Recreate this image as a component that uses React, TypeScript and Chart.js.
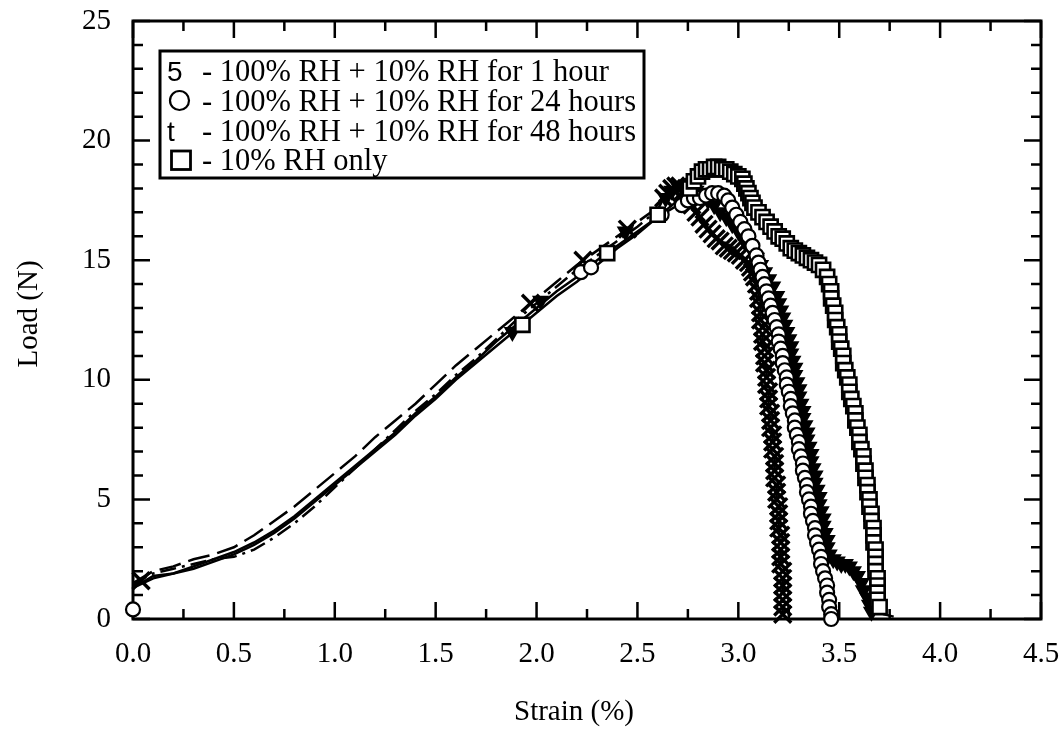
import React, { useEffect, useRef } from 'react';
import { Chart, registerables } from 'chart.js';

Chart.register(...registerables);

// ---------- tick labels / texts ----------
const xTickLabels = ['0.0', '0.5', '1.0', '1.5', '2.0', '2.5', '3.0', '3.5', '4.0', '4.5'];
const yTickLabels = ['0', '5', '10', '15', '20', '25'];
const xAxisTitle = 'Strain (%)';
const yAxisTitle = 'Load (N)';
const legendSymbols = ['5', '○', 't', '□'];
const legendLabels = [
  '- 100% RH + 10% RH for 1 hour',
  '- 100% RH + 10% RH for 24 hours',
  '- 100% RH + 10% RH for 48 hours',
  '- 10% RH only',
];

// ---------- 100% RH + 10% RH for 1 hour (X markers) ----------
const h1RiseStrain = [0.00, 0.05, 0.10, 0.20, 0.30, 0.40, 0.50, 0.60, 0.70, 0.80, 0.90, 1.00, 1.10, 1.20, 1.30, 1.40, 1.50, 1.60, 1.70, 1.80, 1.90, 2.00, 2.10, 2.20, 2.30, 2.40, 2.50, 2.60];
const h1RiseLoad = [1.4, 1.7, 1.9, 2.1, 2.3, 2.5, 2.6, 2.9, 3.4, 4.0, 4.7, 5.5, 6.3, 7.1, 7.9, 8.7, 9.4, 10.2, 10.9, 11.7, 12.5, 13.2, 13.9, 14.6, 15.2, 15.8, 16.4, 17.1];
const h1MarkStrain = [0.04, 1.97, 2.23, 2.45];
const h1MarkLoad = [1.6, 13.2, 15.0, 16.3];
const h1DescStrain = [2.63, 2.65, 2.67, 2.69, 2.71, 2.73, 2.75, 2.77, 2.79, 2.81, 2.83, 2.85, 2.87, 2.89, 2.91, 2.93, 2.95, 2.97, 2.99, 3.01, 3.03, 3.05, 3.06, 3.07, 3.08, 3.09, 3.10, 3.10, 3.11, 3.11, 3.11, 3.12, 3.12, 3.12, 3.13, 3.13, 3.13, 3.14, 3.14, 3.14, 3.15, 3.15, 3.15, 3.16, 3.16, 3.16, 3.17, 3.17, 3.17, 3.18, 3.18, 3.18, 3.18, 3.19, 3.19, 3.19, 3.20, 3.20, 3.20, 3.20, 3.21, 3.21, 3.21, 3.21, 3.21, 3.22, 3.22, 3.22, 3.22, 3.22, 3.22, 3.22];
const h1DescLoad = [17.6, 17.8, 18.0, 18.1, 18.1, 17.9, 17.6, 17.3, 17.0, 16.8, 16.5, 16.3, 16.1, 15.9, 15.8, 15.6, 15.5, 15.4, 15.3, 15.2, 15.0, 14.9, 14.7, 14.5, 14.3, 14.0, 13.7, 13.4, 13.1, 12.8, 12.5, 12.2, 11.9, 11.6, 11.3, 11.0, 10.7, 10.4, 10.1, 9.8, 9.5, 9.2, 8.9, 8.6, 8.3, 8.0, 7.7, 7.4, 7.1, 6.8, 6.5, 6.2, 5.9, 5.6, 5.3, 5.0, 4.7, 4.4, 4.1, 3.8, 3.5, 3.2, 2.9, 2.6, 2.3, 2.0, 1.7, 1.4, 1.1, 0.8, 0.5, 0.2];

// ---------- 100% RH + 10% RH for 24 hours (circles) ----------
const h24RiseStrain = [0.02, 0.10, 0.20, 0.30, 0.40, 0.50, 0.60, 0.70, 0.80, 0.90, 1.00, 1.10, 1.20, 1.30, 1.40, 1.50, 1.60, 1.70, 1.80, 1.90, 2.00, 2.10, 2.20, 2.30, 2.40, 2.50, 2.60, 2.70];
const h24RiseLoad = [1.4, 1.8, 1.9, 2.2, 2.5, 2.8, 3.2, 3.7, 4.3, 5.0, 5.7, 6.4, 7.1, 7.8, 8.6, 9.3, 10.1, 10.8, 11.6, 12.3, 13.0, 13.7, 14.3, 15.0, 15.6, 16.2, 16.8, 17.3];
const h24MarkStrain = [0.00, 2.22, 2.27, 2.62];
const h24MarkLoad = [0.4, 14.5, 14.7, 16.9];
const h24DescStrain = [2.72, 2.75, 2.78, 2.81, 2.84, 2.87, 2.90, 2.93, 2.95, 2.97, 2.99, 3.01, 3.03, 3.05, 3.07, 3.09, 3.10, 3.11, 3.12, 3.13, 3.14, 3.15, 3.16, 3.17, 3.18, 3.19, 3.20, 3.20, 3.21, 3.22, 3.22, 3.23, 3.24, 3.24, 3.25, 3.26, 3.26, 3.27, 3.28, 3.28, 3.29, 3.30, 3.30, 3.31, 3.32, 3.32, 3.33, 3.34, 3.34, 3.35, 3.36, 3.36, 3.37, 3.38, 3.38, 3.39, 3.40, 3.41, 3.41, 3.42, 3.43, 3.44, 3.44, 3.45, 3.45, 3.46, 3.46];
const h24DescLoad = [17.3, 17.5, 17.6, 17.6, 17.7, 17.8, 17.8, 17.7, 17.5, 17.2, 16.9, 16.6, 16.3, 16.0, 15.6, 15.2, 14.9, 14.6, 14.3, 14.0, 13.7, 13.4, 13.1, 12.8, 12.5, 12.2, 11.9, 11.6, 11.3, 11.0, 10.7, 10.4, 10.1, 9.8, 9.5, 9.2, 8.9, 8.6, 8.3, 8.0, 7.7, 7.4, 7.1, 6.8, 6.5, 6.2, 5.9, 5.6, 5.3, 5.0, 4.7, 4.4, 4.1, 3.8, 3.5, 3.2, 2.9, 2.6, 2.3, 2.0, 1.7, 1.4, 1.1, 0.8, 0.5, 0.2, 0.0];

// ---------- 100% RH + 10% RH for 48 hours (filled down triangles) ----------
const h48RiseStrain = [0.00, 0.10, 0.20, 0.30, 0.40, 0.50, 0.60, 0.70, 0.80, 0.90, 1.00, 1.10, 1.20, 1.30, 1.40, 1.50, 1.60, 1.70, 1.80, 1.90, 2.00, 2.10, 2.20, 2.30, 2.40, 2.50, 2.60];
const h48RiseLoad = [1.5, 2.0, 2.2, 2.5, 2.7, 3.0, 3.5, 4.1, 4.7, 5.4, 6.1, 6.8, 7.6, 8.3, 9.0, 9.8, 10.6, 11.3, 12.0, 12.7, 13.4, 14.1, 14.8, 15.4, 16.0, 16.6, 17.2];
const h48MarkStrain = [1.88, 2.02, 2.44];
const h48MarkLoad = [12.0, 13.3, 16.2];
const h48DescStrain = [2.64, 2.67, 2.70, 2.73, 2.76, 2.79, 2.82, 2.85, 2.88, 2.91, 2.94, 2.97, 3.00, 3.03, 3.06, 3.09, 3.11, 3.13, 3.15, 3.17, 3.19, 3.20, 3.21, 3.22, 3.23, 3.24, 3.25, 3.26, 3.26, 3.27, 3.28, 3.28, 3.29, 3.30, 3.30, 3.31, 3.32, 3.32, 3.33, 3.34, 3.34, 3.35, 3.36, 3.36, 3.37, 3.38, 3.38, 3.39, 3.40, 3.40, 3.41, 3.42, 3.42, 3.43, 3.44, 3.44, 3.45, 3.47, 3.49, 3.51, 3.53, 3.55, 3.57, 3.59, 3.61, 3.62, 3.64, 3.65, 3.66];
const h48DescLoad = [17.6, 17.9, 18.1, 18.1, 18.0, 17.9, 17.7, 17.5, 17.3, 17.0, 16.8, 16.5, 16.2, 15.8, 15.5, 15.1, 14.8, 14.5, 14.2, 13.9, 13.5, 13.2, 12.9, 12.6, 12.3, 12.0, 11.7, 11.4, 11.1, 10.8, 10.5, 10.2, 9.9, 9.6, 9.3, 9.0, 8.7, 8.4, 8.1, 7.8, 7.5, 7.2, 6.9, 6.6, 6.3, 6.0, 5.7, 5.4, 5.1, 4.8, 4.5, 4.2, 3.9, 3.6, 3.3, 3.0, 2.7, 2.5, 2.4, 2.3, 2.3, 2.2, 2.0, 1.8, 1.5, 1.2, 0.9, 0.6, 0.3];

// ---------- 10% RH only (open squares) ----------
const sqRiseStrain = [0.00, 0.10, 0.20, 0.30, 0.40, 0.50, 0.60, 0.70, 0.80, 0.90, 1.00, 1.10, 1.20, 1.30, 1.40, 1.50, 1.60, 1.70, 1.80, 1.90, 2.00, 2.10, 2.20, 2.30, 2.40, 2.50, 2.60, 2.70];
const sqRiseLoad = [1.3, 1.7, 1.9, 2.1, 2.4, 2.7, 3.1, 3.6, 4.2, 4.9, 5.6, 6.3, 7.0, 7.7, 8.5, 9.2, 10.0, 10.7, 11.4, 12.1, 12.8, 13.5, 14.1, 14.8, 15.5, 16.1, 16.8, 17.5];
const sqMarkStrain = [1.93, 2.35, 2.60];
const sqMarkLoad = [12.3, 15.3, 16.9];
const sqDescStrain = [2.76, 2.78, 2.80, 2.82, 2.84, 2.86, 2.88, 2.90, 2.92, 2.94, 2.96, 2.98, 3.00, 3.02, 3.03, 3.04, 3.05, 3.06, 3.07, 3.08, 3.10, 3.12, 3.14, 3.16, 3.18, 3.20, 3.22, 3.24, 3.26, 3.28, 3.30, 3.32, 3.34, 3.36, 3.38, 3.40, 3.42, 3.44, 3.45, 3.46, 3.46, 3.47, 3.48, 3.48, 3.49, 3.50, 3.50, 3.51, 3.52, 3.52, 3.53, 3.54, 3.55, 3.55, 3.56, 3.57, 3.58, 3.58, 3.59, 3.60, 3.60, 3.61, 3.62, 3.62, 3.63, 3.63, 3.64, 3.64, 3.65, 3.65, 3.66, 3.66, 3.67, 3.67, 3.67, 3.68, 3.68, 3.68, 3.68, 3.69, 3.69, 3.69, 3.69, 3.70];
const sqDescLoad = [18.0, 18.3, 18.5, 18.7, 18.8, 18.8, 18.9, 18.9, 18.8, 18.8, 18.7, 18.6, 18.5, 18.4, 18.2, 18.0, 17.8, 17.6, 17.4, 17.2, 17.0, 16.8, 16.6, 16.4, 16.2, 16.0, 15.9, 15.7, 15.5, 15.4, 15.3, 15.2, 15.1, 15.0, 14.9, 14.8, 14.6, 14.3, 14.0, 13.7, 13.4, 13.1, 12.8, 12.5, 12.2, 11.9, 11.6, 11.3, 11.0, 10.7, 10.4, 10.1, 9.8, 9.5, 9.2, 8.9, 8.6, 8.3, 8.0, 7.7, 7.4, 7.1, 6.8, 6.5, 6.2, 5.9, 5.6, 5.3, 5.0, 4.7, 4.4, 4.1, 3.8, 3.5, 3.2, 2.9, 2.6, 2.3, 2.0, 1.7, 1.4, 1.1, 0.8, 0.5];
const sqTailStrain = [3.72, 3.77];
const sqTailLoad = [0.2, 0.1];

// ---------- helpers ----------
const zip = (xs: number[], ys: number[]) => {
  const n = Math.min(xs.length, ys.length);
  const out: { x: number; y: number }[] = [];
  for (let i = 0; i < n; i++) out.push({ x: xs[i], y: ys[i] });
  return out;
};

const SERIF = '"Liberation Serif", "Times New Roman", serif';
const SANS = '"Liberation Sans", Arial, sans-serif';
const BLACK = '#000000';

const framePlugin = {
  id: 'frameTicksLegend',
  beforeDatasetsDraw(chart: any) {
    const { ctx, chartArea: a, scales } = chart;
    const xs = scales.x;
    const ys = scales.y;
    ctx.save();
    ctx.strokeStyle = BLACK;
    ctx.lineCap = 'butt';
    ctx.lineWidth = 2.5;
    ctx.beginPath();
    const MAJ = 17;
    const MIN = 10;
    xTickLabels.forEach((lab, i) => {
      const v = parseFloat(lab);
      const px = xs.getPixelForValue(v);
      ctx.moveTo(px, a.bottom); ctx.lineTo(px, a.bottom - MAJ);
      ctx.moveTo(px, a.top); ctx.lineTo(px, a.top + MAJ);
      if (i < xTickLabels.length - 1) {
        const pm = xs.getPixelForValue(v + 0.25);
        ctx.moveTo(pm, a.bottom); ctx.lineTo(pm, a.bottom - MIN);
        ctx.moveTo(pm, a.top); ctx.lineTo(pm, a.top + MIN);
      }
    });
    const yMax = parseFloat(yTickLabels[yTickLabels.length - 1]);
    for (let v = 0; v <= yMax; v += 1) {
      const py = ys.getPixelForValue(v);
      const len = v % 5 === 0 ? MAJ : MIN;
      ctx.moveTo(a.left, py); ctx.lineTo(a.left + len, py);
      ctx.moveTo(a.right, py); ctx.lineTo(a.right - len, py);
    }
    ctx.stroke();
    ctx.lineWidth = 3;
    ctx.strokeRect(a.left, a.top, a.right - a.left, a.bottom - a.top);
    ctx.restore();
  },
  afterDraw(chart: any) {
    const { ctx, chartArea: a } = chart;
    ctx.save();
    ctx.fillStyle = BLACK;
    ctx.strokeStyle = BLACK;
    // axis titles
    ctx.font = `29px ${SERIF}`;
    ctx.textAlign = 'center';
    ctx.textBaseline = 'alphabetic';
    ctx.fillText(xAxisTitle, 574, 720);
    ctx.save();
    ctx.translate(37, 314);
    ctx.rotate(-Math.PI / 2);
    ctx.fillText(yAxisTitle, 0, 0);
    ctx.restore();

    // legend box
    const bx = a.left + 27;
    const by = a.top + 30;
    const bw = 484;
    const bh = 127;
    ctx.fillStyle = '#ffffff';
    ctx.fillRect(bx, by, bw, bh);
    ctx.lineWidth = 3;
    ctx.strokeRect(bx, by, bw, bh);
    ctx.fillStyle = BLACK;
    const rowBase = [by + 30, by + 59.5, by + 89.5, by + 118.5];
    legendLabels.forEach((lab, i) => {
      const base = rowBase[i];
      ctx.textAlign = 'left';
      ctx.textBaseline = 'alphabetic';
      ctx.font = `30.5px ${SERIF}`;
      ctx.fillText(lab, bx + 42, base);
      const sym = legendSymbols[i];
      if (sym === '○') {
        ctx.lineWidth = 2.2;
        ctx.beginPath();
        ctx.arc(bx + 19.5, base - 10, 9.5, 0, Math.PI * 2);
        ctx.stroke();
      } else if (sym === '□') {
        ctx.lineWidth = 2.8;
        ctx.strokeRect(bx + 11.5, base - 18.5, 19, 18.5);
      } else {
        ctx.font = `28px ${SANS}`;
        ctx.fillText(sym, bx + 7, base);
      }
    });
    ctx.restore();
  },
};

export default function App() {
  const ref = useRef<HTMLCanvasElement | null>(null);

  useEffect(() => {
    if (!ref.current) return;
    const lineBase = { showLine: true, pointRadius: 0, borderColor: BLACK, borderWidth: 2.5, fill: false, clip: false, order: 10 };
    const datasets: any[] = [
      { ...lineBase, label: 'h1 line', data: zip(h1RiseStrain, h1RiseLoad).concat(zip(h1DescStrain, h1DescLoad)), borderDash: [16, 6, 3, 6] },
      { ...lineBase, label: 'h24 line', data: zip(h24RiseStrain, h24RiseLoad).concat(zip(h24DescStrain, h24DescLoad)) },
      { ...lineBase, label: 'h48 line', data: zip(h48RiseStrain, h48RiseLoad).concat(zip(h48DescStrain, h48DescLoad)), borderDash: [22, 8] },
      { ...lineBase, label: 'sq line', data: zip(sqRiseStrain, sqRiseLoad).concat(zip(sqDescStrain, sqDescLoad)).concat(zip(sqTailStrain, sqTailLoad)) },
      {
        label: legendLabels[0], showLine: false, clip: false, order: 5,
        data: zip(h1MarkStrain, h1MarkLoad).concat(zip(h1DescStrain, h1DescLoad)),
        pointStyle: 'crossRot', pointRadius: 12, pointBorderWidth: 3.4, pointBorderColor: BLACK, pointBackgroundColor: BLACK,
      },
      {
        label: legendLabels[2], showLine: false, clip: false, order: 4,
        data: zip(h48MarkStrain, h48MarkLoad).concat(zip(h48DescStrain, h48DescLoad)),
        pointStyle: 'triangle', pointRotation: 180, pointRadius: 8.5, pointBorderWidth: 1.5, pointBorderColor: BLACK, pointBackgroundColor: BLACK,
      },
      {
        label: legendLabels[1], showLine: false, clip: false, order: 3,
        data: zip(h24MarkStrain, h24MarkLoad).concat(zip(h24DescStrain, h24DescLoad)),
        pointStyle: 'circle', pointRadius: 7, pointBorderWidth: 2.2, pointBorderColor: BLACK, pointBackgroundColor: '#ffffff',
      },
      {
        label: legendLabels[3], showLine: false, clip: false, order: 2,
        data: zip(sqMarkStrain, sqMarkLoad).concat(zip(sqDescStrain, sqDescLoad)),
        pointStyle: 'rect', pointRadius: 10, pointBorderWidth: 2.6, pointBorderColor: BLACK, pointBackgroundColor: '#ffffff',
      },
    ];

    const findLabel = (labels: string[], v: number) => {
      const i = labels.findIndex((l) => Math.abs(parseFloat(l) - v) < 1e-6);
      return i >= 0 ? labels[i] : '';
    };

    const chart = new Chart(ref.current, {
      type: 'scatter',
      data: { datasets },
      plugins: [framePlugin],
      options: {
        responsive: false,
        animation: false,
        events: [],
        layout: { padding: { left: 0, right: 23, top: 21, bottom: 0 } },
        plugins: { legend: { display: false }, tooltip: { enabled: false }, title: { display: false } },
        scales: {
          x: {
            type: 'linear',
            min: parseFloat(xTickLabels[0]),
            max: parseFloat(xTickLabels[xTickLabels.length - 1]),
            grid: { display: false, drawTicks: false },
            border: { display: false },
            ticks: {
              stepSize: 0.5,
              padding: 18,
              color: BLACK,
              font: { family: SERIF, size: 29 },
              maxRotation: 0,
              autoSkip: false,
              callback: (v: any) => findLabel(xTickLabels, Number(v)),
            },
            afterFit: (s: any) => { s.height = 111; s.paddingLeft = 0; s.paddingRight = 0; },
          },
          y: {
            type: 'linear',
            min: parseFloat(yTickLabels[0]),
            max: parseFloat(yTickLabels[yTickLabels.length - 1]),
            grid: { display: false, drawTicks: false },
            border: { display: false },
            ticks: {
              stepSize: 5,
              padding: 22,
              color: BLACK,
              font: { family: SERIF, size: 29 },
              autoSkip: false,
              callback: (v: any) => findLabel(yTickLabels, Number(v)),
            },
            afterFit: (s: any) => { s.width = 133; s.paddingTop = 0; s.paddingBottom = 0; },
          },
        },
      } as any,
    });
    return () => chart.destroy();
  }, []);

  return (
    <div style={{ position: 'absolute', left: 0, top: 0, width: 1064, height: 730, background: '#ffffff' }}>
      <canvas ref={ref} width={1064} height={730} style={{ display: 'block', width: 1064, height: 730 }} />
    </div>
  );
}
